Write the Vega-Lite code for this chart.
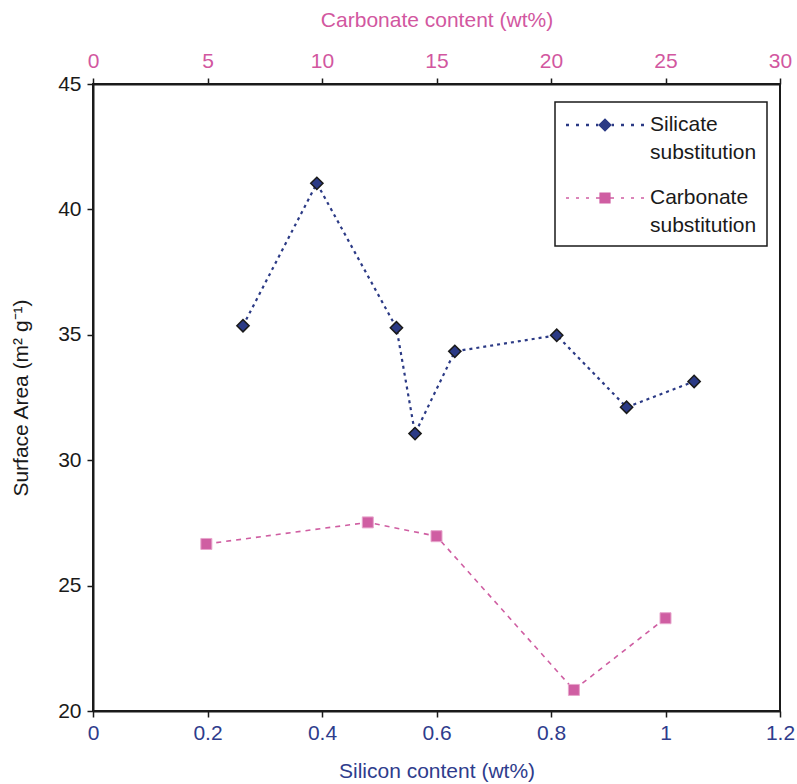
{
  "$schema": "https://vega.github.io/schema/vega-lite/v6.json",
  "width": 687,
  "height": 627,
  "autosize": {"type": "none"},
  "padding": {"left": 93, "top": 84, "right": 17, "bottom": 73},
  "config": {
    "font": "Liberation Sans",
    "view": {"stroke": "#1a1a1a", "strokeWidth": 2},
    "axis": {"grid": false, "labelFont": "Liberation Sans", "titleFont": "Liberation Sans", "labelFontSize": 21, "titleFontSize": 21, "titleFontWeight": "normal", "domainColor": "#1a1a1a", "domainWidth": 2, "tickColor": "#1a1a1a", "tickWidth": 1.5, "tickSize": 6, "labelFlush": false, "labelOverlap": false}
  },
  "data": {
    "values": [
      {"series": "Silicate", "silicon": 0.262, "area": 35.36},
      {"series": "Silicate", "silicon": 0.391, "area": 41.04},
      {"series": "Silicate", "silicon": 0.530, "area": 35.28},
      {"series": "Silicate", "silicon": 0.5625, "area": 31.06},
      {"series": "Silicate", "silicon": 0.632, "area": 34.34},
      {"series": "Silicate", "silicon": 0.810, "area": 34.98},
      {"series": "Silicate", "silicon": 0.932, "area": 32.11},
      {"series": "Silicate", "silicon": 1.050, "area": 33.14},
      {"series": "Carbonate", "carbonate": 4.95, "area": 26.66},
      {"series": "Carbonate", "carbonate": 12.0, "area": 27.52},
      {"series": "Carbonate", "carbonate": 15.0, "area": 26.97},
      {"series": "Carbonate", "carbonate": 21.0, "area": 20.84},
      {"series": "Carbonate", "carbonate": 25.0, "area": 23.70}
    ]
  },
  "encoding": {
    "y": {
      "field": "area", "type": "quantitative",
      "scale": {"domain": [20, 45], "nice": false, "zero": false},
      "axis": {"values": [20, 25, 30, 35, 40, 45], "title": "Surface Area (m² g⁻¹)", "labelColor": "#1a1a1a", "titleColor": "#1a1a1a", "labelPadding": 6, "titlePadding": 26}
    },
    "color": {
      "field": "series", "type": "nominal",
      "scale": {"domain": ["Silicate", "Carbonate"], "range": ["#2b3a85", "#cf5ea2"]},
      "legend": {
        "orient": "none", "legendX": 462, "legendY": 18, "title": null,
        "strokeColor": "#1a1a1a", "padding": 10,
        "symbolSize": 6400, "clipHeight": 26, "rowPadding": 22,
        "labelOffset": 5, "symbolOffset": 0,
        "labelFont": "Liberation Sans", "labelFontSize": 21, "labelColor": "#1a1a1a", "labelLimit": 300,
        "labelExpr": "datum.value === 'Silicate' ? ['Silicate', 'substitution'] : ['Carbonate', 'substitution']",
        "encode": {
          "legend": {"update": {"strokeWidth": {"value": 1.5}}},
          "symbols": {"update": {
            "shape": {"signal": "datum.value === 'Silicate' ? 'M-0.975,-0.03H-0.9V0.03H-0.975Z M-0.725,-0.03H-0.65V0.03H-0.725Z M-0.475,-0.03H-0.4V0.03H-0.475Z M-0.225,-0.03H-0.17V0.03H-0.225Z M-0.17,0L0,-0.17L0.17,0L0,0.17Z M0.17,-0.03H0.225V0.03H0.17Z M0.4,-0.03H0.475V0.03H0.4Z M0.65,-0.03H0.725V0.03H0.65Z M0.9,-0.03H0.975V0.03H0.9Z' : 'M-0.975,-0.02H-0.9V0.02H-0.975Z M-0.725,-0.02H-0.65V0.02H-0.725Z M-0.475,-0.02H-0.4V0.02H-0.475Z M-0.225,-0.02H-0.14V0.02H-0.225Z M-0.14,-0.14H0.14V0.14H-0.14Z M0.14,-0.02H0.225V0.02H0.14Z M0.4,-0.02H0.475V0.02H0.4Z M0.65,-0.02H0.725V0.02H0.65Z M0.9,-0.02H0.975V0.02H0.9Z'"},
            "size": {"value": 6400},
            "fill": {"signal": "datum.value === 'Silicate' ? '#2b3a85' : '#cf5ea2'"},
            "fillOpacity": {"value": 1},
            "opacity": {"value": 1},
            "strokeWidth": {"value": 0}
          }},
          "labels": {"update": {"lineHeight": {"value": 28}}}
        }
      }
    }
  },
  "layer": [
    {
      "transform": [{"filter": "datum.series === 'Silicate'"}],
      "encoding": {
        "x": {
          "field": "silicon", "type": "quantitative",
          "scale": {"domain": [0, 1.2], "nice": false, "zero": false},
          "axis": {"orient": "bottom", "title": "Silicon content (wt%)", "values": [0, 0.2, 0.4, 0.6, 0.8, 1, 1.2], "format": "~g", "labelColor": "#2e3c8c", "titleColor": "#2e3c8c", "labelPadding": 5, "titlePadding": 17}
        }
      },
      "layer": [
        {"mark": {"type": "line", "strokeDash": [3, 4], "strokeWidth": 2.2}},
        {"mark": {"type": "point", "shape": "diamond", "filled": true, "size": 150, "stroke": "#1a1a1a", "strokeWidth": 1.5, "opacity": 1}}
      ]
    },
    {
      "transform": [{"filter": "datum.series === 'Carbonate'"}],
      "encoding": {
        "x": {
          "field": "carbonate", "type": "quantitative",
          "scale": {"domain": [0, 30], "nice": false, "zero": false},
          "axis": {"orient": "top", "title": "Carbonate content (wt%)", "values": [0, 5, 10, 15, 20, 25, 30], "labelColor": "#d2579f", "titleColor": "#d2579f", "labelPadding": 7, "titlePadding": 20}
        }
      },
      "layer": [
        {"mark": {"type": "line", "strokeDash": [5, 5], "strokeWidth": 1.6}},
        {"mark": {"type": "point", "shape": "square", "filled": true, "size": 121, "stroke": "#e7a6cc", "strokeWidth": 1, "opacity": 1}}
      ]
    }
  ],
  "resolve": {"scale": {"x": "independent"}}
}
